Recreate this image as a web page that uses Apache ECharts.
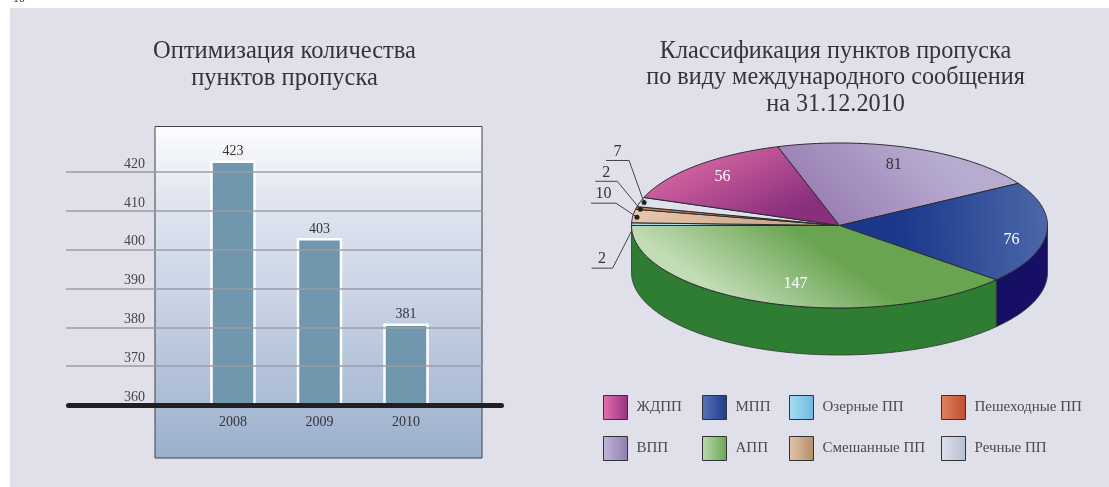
<!DOCTYPE html>
<html>
<head>
<meta charset="utf-8">
<style>
  html, body { margin: 0; padding: 0; background: #fff; }
  #chart { width: 1109px; height: 487px; }
</style>
<script src="https://cdn.jsdelivr.net/npm/echarts@6/dist/echarts.min.js"></script>
</head>
<body>
<div id="chart"></div>
<script>
// bar chart data
var years = ['2008', '2009', '2010'];
var checkpoints = [423, 403, 381];

// pie data, clockwise from the left edge of the disc
var sliceNames = ['Озерные ПП', 'Смешанные ПП', 'Пешеходные ПП', 'Речные ПП', 'ЖДПП', 'ВПП', 'МПП', 'АПП'];
var sliceValues = [2, 10, 2, 7, 56, 81, 76, 147];

// legend columns
var legendColumns = [
  ['ЖДПП', 'ВПП'],
  ['МПП', 'АПП'],
  ['Озерные ПП', 'Смешанные ПП'],
  ['Пешеходные ПП', 'Речные ПП']
];
var legendLefts = [603, 702, 789, 941];

var FONT = '"Liberation Serif", serif';
var INK = '#333338';

// disc geometry
var CX = 839.5, CY = 225.5, RX = 208, RY = 82.5, DEPTH = 47;

function gradient(x, y, x2, y2, from, to) {
  return {
    type: 'linear', x: x, y: y, x2: x2, y2: y2,
    colorStops: [{ offset: 0, color: from }, { offset: 1, color: to }]
  };
}

// top face fill, rim fill and legend swatch colours per slice
var sliceStyles = {
  'Озерные ПП': { fill: '#A6DBF1', swatch: ['#A6DDF3', '#6FB9DD'] },
  'Смешанные ПП': { fill: gradient(0, 0, 1, 0, '#E6C8AE', '#C29A78'), swatch: ['#E3C5A9', '#B58D69'] },
  'Пешеходные ПП': { fill: '#DB7550', swatch: ['#DF8260', '#BC5030'] },
  'Речные ПП': { fill: '#DDE1EB', swatch: ['#DEE1EB', '#B6BED3'] },
  'ЖДПП': { fill: gradient(0.4, 0, 0.6, 1, '#D2629F', '#8A2F7E'), swatch: ['#E86FAD', '#933480'] },
  'ВПП': { fill: gradient(0.6, 0, 0.25, 1, '#B7ACD0', '#9A80B4'), swatch: ['#C3B6D8', '#8F7DB0'] },
  'МПП': { fill: gradient(0.3, 0.5, 1, 0.4, '#1B388B', '#4C68A9'), rim: '#170F66', swatch: ['#5873B4', '#1D3A8C'] },
  'АПП': { fill: gradient(0.3, 1, 0.45, 0.05, '#C2DCB5', '#69A451'), rim: '#2E7D32', swatch: ['#BCD9AE', '#6AA553'] }
};

// value label placement: [radius factor, degrees away from the slice middle]
var valueSpots = {
  'ЖДПП': [0.83, -1], 'ВПП': [0.8, 2], 'МПП': [0.84, -5], 'АПП': [0.72, 3.5]
};
// callouts for the thin slices: [rim factor, dot drop, elbow dx, elbow dy, run length]
var callouts = {
  'Озерные ПП': [0.99, 3, -21, 41, -21],
  'Смешанные ПП': [0.98, 1, -21, -14, -25],
  'Пешеходные ПП': [0.98, 1, -23, -28, -22],
  'Речные ПП': [0.98, 0, -15, -42, -23]
};

var total = sliceValues.reduce(function (a, b) { return a + b; }, 0);

function toPoint(deg, factor, drop) {
  var a = deg * Math.PI / 180;
  return [CX + RX * factor * Math.cos(a), CY - RY * factor * Math.sin(a) + (drop || 0)];
}

function arcPoints(from, to, drop) {
  var pts = [];
  var steps = Math.max(2, Math.ceil(Math.abs(to - from)));
  for (var i = 0; i <= steps; i++) {
    pts.push(toPoint(from + (to - from) * i / steps, 1, drop));
  }
  return pts;
}

function renderSlice(index) {
  return function (params, api) {
    var name = sliceNames[index];
    var value = api.value(0);
    var before = 0;
    for (var i = 0; i < index; i++) before += sliceValues[i];
    var start = 180 - before / total * 360;
    var end = start - value / total * 360;
    var style = sliceStyles[name];
    var children = [];

    // rim, only where the disc faces the viewer
    if (style.rim) {
      var rimFrom = Math.min(start, 0);
      var upper = arcPoints(rimFrom, end, 0);
      var lower = arcPoints(end, rimFrom, DEPTH);
      children.push({
        type: 'polygon',
        shape: { points: upper.concat(lower) },
        style: { fill: style.rim, stroke: '#333', lineWidth: 0.8 }
      });
    }

    // top face
    children.push({
      type: 'polygon',
      shape: { points: [[CX, CY]].concat(arcPoints(start, end, 0)) },
      style: { fill: style.fill, stroke: '#2b2b30', lineWidth: 1 }
    });

    var mid = (start + end) / 2;
    if (valueSpots[name]) {
      var spot = toPoint(mid + valueSpots[name][1], valueSpots[name][0], 2);
      children.push({
        type: 'text',
        x: spot[0], y: spot[1],
        style: {
          text: String(value), align: 'center', verticalAlign: 'middle',
          font: '16px ' + FONT, fill: name === 'ВПП' ? INK : '#fff'
        }
      });
    }
    if (callouts[name]) {
      var c = callouts[name];
      var dot = toPoint(mid, c[0], c[1]);
      var elbow = [dot[0] + c[2], dot[1] + c[3]];
      var tail = [elbow[0] + c[4], elbow[1]];
      children.push({
        type: 'polyline',
        shape: { points: [dot, elbow, tail] },
        style: { fill: null, stroke: '#444', lineWidth: 1 }
      });
      children.push({
        type: 'circle',
        shape: { cx: dot[0], cy: dot[1], r: 2.5 },
        style: { fill: '#222' }
      });
      children.push({
        type: 'text',
        x: (elbow[0] + tail[0]) / 2, y: elbow[1] - 1,
        style: {
          text: String(value), align: 'center', verticalAlign: 'bottom',
          font: '16px ' + FONT, fill: INK
        }
      });
    }
    return { type: 'group', children: children };
  };
}

// one custom series per slice, so the legends can pick them up by name
var series = [];
sliceNames.forEach(function (name, i) {
  series.push({
    type: 'custom',
    name: name,
    coordinateSystem: 'none',
    silent: true,
    animation: false,
    data: [[sliceValues[i]]],
    renderItem: renderSlice(i)
  });
});

series.push({
  type: 'bar',
  name: 'checkpoints',
  xAxisIndex: 1,
  yAxisIndex: 1,
  z: 2,
  barWidth: 45.5,
  animation: false,
  data: checkpoints,
  itemStyle: { color: '#7097AD', borderColor: '#fff', borderWidth: 2.5 },
  label: {
    show: true, position: 'top', distance: 2,
    fontFamily: FONT, fontSize: 14, color: INK
  }
});

var legends = legendColumns.map(function (column, i) {
  return {
    orient: 'vertical',
    left: legendLefts[i],
    top: 395,
    padding: 0,
    itemWidth: 24,
    itemHeight: 24,
    itemGap: 16,
    selectedMode: false,
    textStyle: { fontFamily: FONT, fontSize: 15, color: '#4a4a50', padding: [0, 0, 0, 4] },
    data: column.map(function (name) {
      var s = sliceStyles[name].swatch;
      return {
        name: name,
        icon: 'rect',
        itemStyle: { color: gradient(0, 0, 1, 0, s[0], s[1]), borderColor: '#333', borderWidth: 1 }
      };
    })
  };
});

var option = {
  backgroundColor: '#fff',
  animation: false,
  title: [
    {
      text: 'Оптимизация количества\nпунктов пропуска',
      left: 279.5, top: 33, textAlign: 'center',
      textStyle: { fontFamily: FONT, fontSize: 24.5, fontWeight: 'normal', color: INK, lineHeight: 27 }
    },
    {
      text: 'Классификация пунктов пропуска\nпо виду международного сообщения\nна 31.12.2010',
      left: 830.5, top: 33, textAlign: 'center',
      textStyle: { fontFamily: FONT, fontSize: 24.2, fontWeight: 'normal', color: INK, lineHeight: 26.5 }
    }
  ],
  legend: legends,
  // 0: scale lines and labels, 1: bars, 2: the heavy base line
  grid: [
    { left: 66, width: 416, top: 172, height: 233 },
    { left: 189.75, width: 259.5, top: 133.2, height: 271.8 },
    { left: 68.5, width: 433, top: 172, height: 233 }
  ],
  xAxis: [
    { type: 'value', gridIndex: 0, min: 0, max: 1, show: false },
    {
      type: 'category', gridIndex: 1, data: years,
      axisLine: { show: false }, axisTick: { show: false },
      axisLabel: { margin: 10, fontFamily: FONT, fontSize: 14, color: INK }
    },
    {
      type: 'value', gridIndex: 2, min: 0, max: 1, z: 4,
      axisLine: { show: true, lineStyle: { color: '#231f20', width: 5, cap: 'round' } },
      axisTick: { show: false }, axisLabel: { show: false }, splitLine: { show: false }
    }
  ],
  yAxis: [
    {
      type: 'value', gridIndex: 0, min: 360, max: 420, interval: 10, z: 3,
      axisLine: { show: false }, axisTick: { show: false },
      splitLine: { lineStyle: { color: '#9c9ca4', width: 1.5 } },
      axisLabel: {
        inside: true, margin: 58, verticalAlign: 'bottom', lineHeight: 16,
        fontFamily: FONT, fontSize: 14, color: '#44444a'
      }
    },
    { type: 'value', gridIndex: 1, min: 360, max: 430, show: false },
    { type: 'value', gridIndex: 2, min: 360, max: 420, show: false }
  ],
  graphic: [
    {
      type: 'rect', z: -3, silent: true,
      shape: { x: 10, y: 8, width: 1099, height: 479 },
      style: { fill: '#E0E0EA' }
    },
    {
      type: 'rect', z: -2, silent: true,
      shape: { x: 155, y: 126.5, width: 327, height: 331.5 },
      style: {
        stroke: '#40404c', lineWidth: 1,
        fill: {
          type: 'linear', x: 0, y: 0, x2: 0, y2: 1,
          colorStops: [
            { offset: 0, color: '#FDFDFE' },
            { offset: 0.22, color: '#E0E5F0' },
            { offset: 0.5, color: '#CBD5E6' },
            { offset: 1, color: '#9BAFCC' }
          ]
        }
      }
    },
    {
      type: 'text', silent: true, x: 13, y: -7,
      style: { text: '10', font: '12px ' + FONT, fill: '#333' }
    }
  ],
  series: series
};

var chart = echarts.init(document.getElementById('chart'));
chart.setOption(option);
</script>
</body>
</html>
